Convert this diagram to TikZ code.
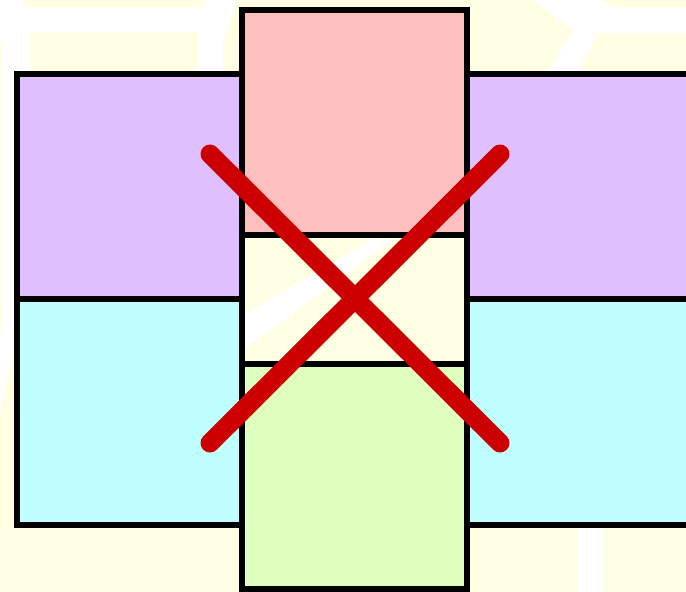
\documentclass[tikz,border=0pt]{standalone}
\definecolor{bgyellow}{HTML}{FFFFE4}
\definecolor{pinkbox}{HTML}{FFBFBF}
\definecolor{purplebox}{HTML}{E0BFFF}
\definecolor{cyanbox}{HTML}{BFFFFF}
\definecolor{greenbox}{HTML}{DFFFBF}
\definecolor{crossred}{HTML}{CC0000}
\begin{document}
\begin{tikzpicture}[x=1pt,y=-1pt,
  boxline/.style={draw=black,line width=6pt,line join=miter},
  crossline/.style={draw=crossred,line width=19pt,line cap=round},
  road/.style={fill=white,draw=none}]
\useasboundingbox (0,0) rectangle (686,592);
\clip (0,0) rectangle (686,592);
% background
\fill[bgyellow] (0,0) rectangle (686,592);
% white roads in the background
\fill[road] (0,0) rectangle (240,73);
\fill[bgyellow] (23,0) rectangle (203,7);
\fill[bgyellow] (30,32) rectangle (197,73);
\fill[bgyellow] (223,73) -- (223,42) -- (236,2) -- (240,2) -- (240,73) -- cycle;
\fill[road] (0,73) -- (16,73) -- (16,340) -- (0,410) -- cycle;
\fill[bgyellow] (0,43) rectangle (2,333);
\fill[road] (532,0) -- (603,0) -- (612,7) -- (686,7) -- (686,33) -- (598,33)
  -- (577,74) -- (547,74) -- (573,30) -- cycle;
\fill[road] (240,317) -- (378,236) -- (398,236) -- (240,352) -- cycle;
\fill[road] (578,520) rectangle (603,592);
% side boxes
\draw[boxline,fill=purplebox] (16.5,74) rectangle (242,299);
\draw[boxline,fill=cyanbox] (16.5,299) rectangle (242,524.5);
\draw[boxline,fill=purplebox] (467,74) rectangle (700,299);
\draw[boxline,fill=cyanbox] (467,299) rectangle (700,524.5);
% centre column
\draw[boxline,fill=pinkbox] (242,10) rectangle (467,234.5);
\draw[boxline] (242,234.5) rectangle (467,363.5);
\draw[boxline,fill=greenbox] (242,363.5) rectangle (467,589);
% red cross
\coordinate (tl) at (210,154);
\coordinate (tr) at (500,154);
\coordinate (bl) at (210,443);
\coordinate (br) at (500,443);
\draw[crossline] (tl) -- (br);
\draw[crossline] (tr) -- (bl);
\end{tikzpicture}
\end{document}
